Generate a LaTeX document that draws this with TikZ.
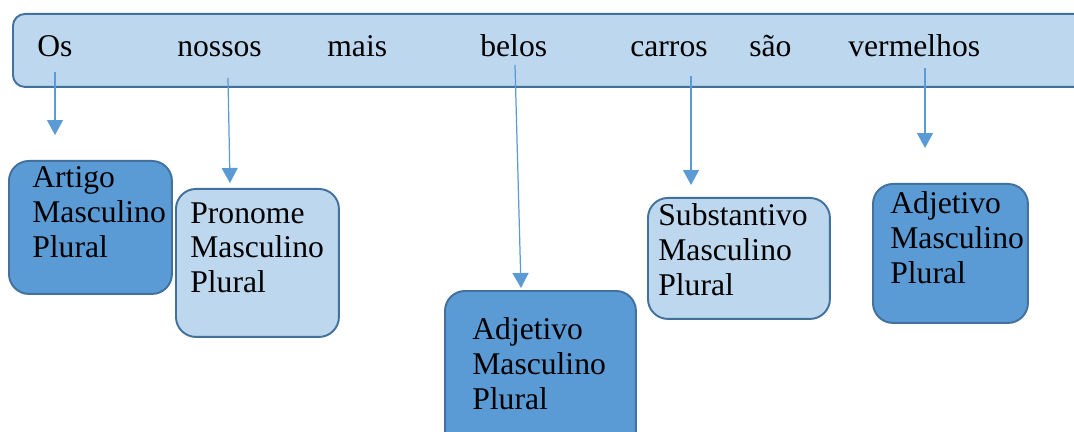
\documentclass[tikz,border=0pt]{standalone}
\usepackage{fontspec}
\setmainfont{Liberation Serif}
\usetikzlibrary{arrows.meta}
\definecolor{lightfill}{HTML}{BDD7EE}
\definecolor{darkfill}{HTML}{5B9BD5}
\definecolor{edgeblue}{HTML}{41719C}
\definecolor{arrowblue}{HTML}{5B9BD5}

\begin{document}
\begin{tikzpicture}[x=0.02cm, y=-0.02cm]
    % settings for this picture
    \tikzset{
      every node/.style={font=\fontsize{18}{19.85}\selectfont},
      box/.style={draw=edgeblue, line width=1.1pt, rounded corners=0.4cm, anchor=north west, inner sep=0pt},
      light/.style={box, fill=lightfill},
      dark/.style={box, fill=darkfill},
      word/.style={anchor=base west, inner sep=0pt},
      boxtext/.style={anchor=north west, align=left, inner sep=0pt},
      arr/.style={draw=arrowblue, line width=0.7pt, -{Triangle[width=0.32cm, length=0.3cm]}},
    }
    \useasboundingbox (0,0) rectangle (1074,432);
    \clip (0,0) rectangle (1074,432);

    % sentence
    \node[light, rounded corners=0.24cm, minimum width=21.76cm, minimum height=1.46cm] (frase) at (12,13) {};
    \node[word] (os) at (37,57) {Os};
    \node[word] (nossos) at (177,57) {nossos};
    \node[word] (mais) at (327,57) {mais};
    \node[word] (belos) at (480,57) {belos};
    \node[word] (carros) at (630,57) {carros};
    \node[word] (sao) at (749,57) {são};
    \node[word] (vermelhos) at (848,57) {vermelhos};

    % classes
    \node[dark, minimum width=3.26cm, minimum height=2.66cm] (artigo) at (8,160) {};
    \node[light, minimum width=3.26cm, minimum height=2.96cm] (pronome) at (175,188) {};
    \node[dark, minimum width=3.82cm, minimum height=3.2cm] (adjmeio) at (444,290) {};
    \node[light, minimum width=3.64cm, minimum height=2.42cm] (substantivo) at (647,197) {};
    \node[dark, minimum width=3.1cm, minimum height=2.78cm] (adjdir) at (872,183) {};

    \node[boxtext] (artigotxt) at (32,166) {Artigo\\Masculino\\Plural};
    \node[boxtext] (pronometxt) at (190,202) {Pronome\\Masculino\\Plural};
    \node[boxtext] (adjmeiotxt) at (472,317) {Adjetivo\\Masculino\\Plural};
    \node[boxtext] (substantivotxt) at (658,203) {Substantivo\\Masculino\\Plural};
    \node[boxtext] (adjdirtxt) at (890,191) {Adjetivo\\Masculino\\Plural};

    % arrow ends
    \coordinate (osa) at (55,72);       \coordinate (osb) at (55,135);
    \coordinate (nossosa) at (228,78);  \coordinate (nossosb) at (230,183);
    \coordinate (belosa) at (515,65);   \coordinate (belosb) at (521,288);
    \coordinate (carrosa) at (691,76);  \coordinate (carrosb) at (691,185);
    \coordinate (vermelhosa) at (925,68); \coordinate (vermelhosb) at (925,148);

    % arrows
    \draw[arr] (osa) -- (osb);
    \draw[arr] (nossosa) -- (nossosb);
    \draw[arr] (belosa) -- (belosb);
    \draw[arr] (carrosa) -- (carrosb);
    \draw[arr] (vermelhosa) -- (vermelhosb);

\end{tikzpicture}
\end{document}
